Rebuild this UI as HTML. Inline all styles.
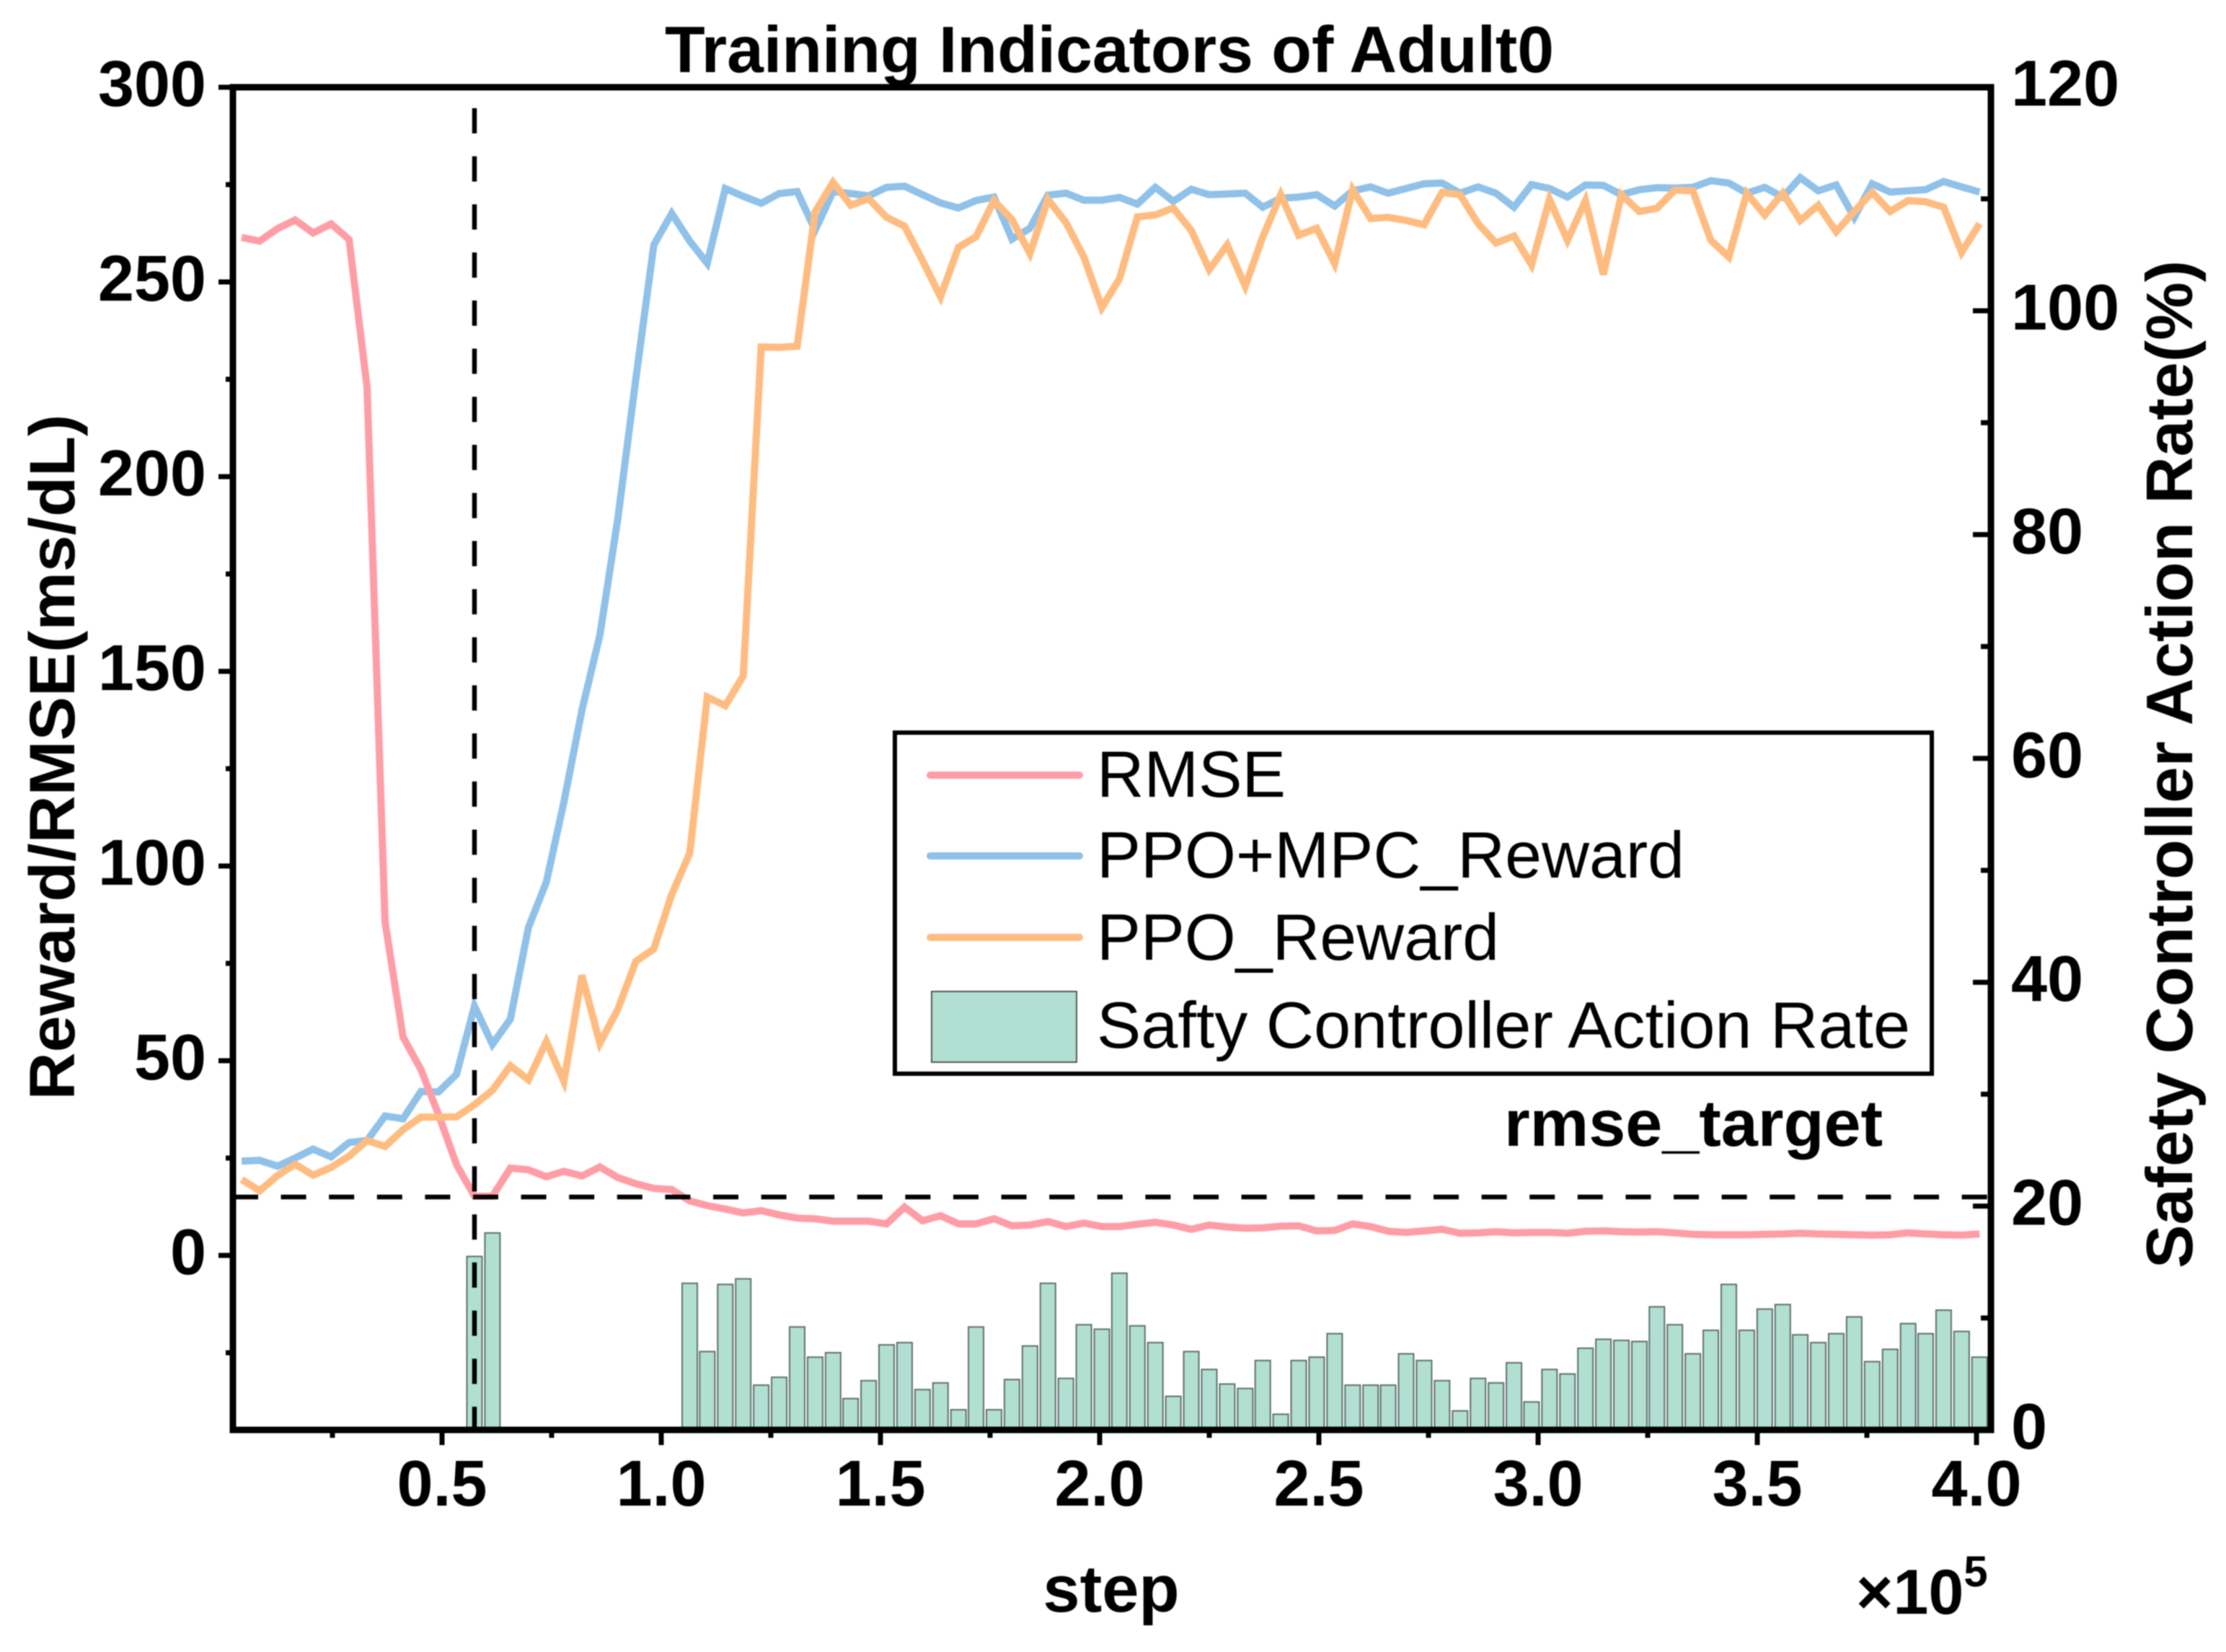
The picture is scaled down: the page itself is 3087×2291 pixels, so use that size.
<!DOCTYPE html>
<html lang="en">
<head>
<meta charset="utf-8">
<title>Training Indicators of Adult0</title>
<style>
  html, body { margin: 0; padding: 0; background: #fff; }
  svg { display: block; filter: blur(0.7px); }
  text { font-family: "Liberation Sans", Arial, sans-serif; fill: #000; }
  .b { font-weight: 700; }
</style>
</head>
<body>
<svg id="chart" xmlns="http://www.w3.org/2000/svg" width="3087" height="2291" viewBox="0 0 3087 2291">
  <rect x="0" y="0" width="3087" height="2291" fill="#fff"/>
  <g id="bars"></g>
  <g id="lines"></g>
  <g id="refs"></g>
  <g id="axes"></g>
  <text class="b" x="922" y="100" font-size="91" textLength="1233" lengthAdjust="spacingAndGlyphs">Training Indicators of Adult0</text>
  <text class="b" x="1541" y="2235" font-size="92" text-anchor="middle">step</text>
  <text class="b" x="2574" y="2238" font-size="88">×10<tspan font-size="60" dy="-38">5</tspan></text>
  <text class="b" transform="translate(103 1050) rotate(-90)" font-size="89" text-anchor="middle" textLength="951" lengthAdjust="spacingAndGlyphs">Reward/RMSE(ms/dL)</text>
  <text class="b" transform="translate(3040 1060) rotate(-90)" font-size="91" text-anchor="middle" textLength="1398" lengthAdjust="spacingAndGlyphs">Safety Controller Action Rate(%)</text>
  <text class="b" x="2086" y="1589" font-size="91" textLength="525" lengthAdjust="spacingAndGlyphs">rmse_target</text>
  <g>
    <rect x="1241" y="1016" width="1438" height="473" fill="#fff" stroke="#000" stroke-width="6"/>
    <line x1="1290" x2="1497" y1="1075" y2="1075" stroke="#ff9da6" stroke-width="10" stroke-linecap="round"/>
    <text x="1521" y="1105" font-size="91" textLength="262" lengthAdjust="spacingAndGlyphs">RMSE</text>
    <line x1="1290" x2="1497" y1="1187" y2="1187" stroke="#8fc1e9" stroke-width="10" stroke-linecap="round"/>
    <text x="1521" y="1217" font-size="91" textLength="815" lengthAdjust="spacingAndGlyphs">PPO+MPC_Reward</text>
    <line x1="1290" x2="1497" y1="1300" y2="1300" stroke="#ffbc80" stroke-width="10" stroke-linecap="round"/>
    <text x="1521" y="1331" font-size="91" textLength="558" lengthAdjust="spacingAndGlyphs">PPO_Reward</text>
    <rect x="1292" y="1375" width="201" height="98" fill="#b1e0d2" stroke="#555" stroke-width="2"/>
    <text x="1521" y="1453" font-size="91" textLength="1128" lengthAdjust="spacingAndGlyphs">Safty Controller Action Rate</text>
  </g>
</svg>
<script>
// Step values, in units of 10^5
const steps = [0.043,0.084,0.125,0.165,0.206,0.247,0.288,0.329,0.370,0.411,
  0.452,0.492,0.533,0.574,0.615,0.656,0.697,0.738,0.778,0.819,
  0.860,0.901,0.942,0.983,1.024,1.065,1.105,1.146,1.187,1.228,
  1.269,1.310,1.351,1.392,1.432,1.473,1.514,1.555,1.596,1.637,
  1.678,1.718,1.759,1.800,1.841,1.882,1.923,1.964,2.005,2.045,
  2.086,2.127,2.168,2.209,2.250,2.291,2.332,2.372,2.413,2.454,
  2.495,2.536,2.577,2.618,2.658,2.699,2.740,2.781,2.822,2.863,
  2.904,2.945,2.985,3.026,3.067,3.108,3.149,3.190,3.231,3.271,
  3.312,3.353,3.394,3.435,3.476,3.517,3.558,3.598,3.639,3.680,
  3.721,3.762,3.803,3.844,3.884,3.925,3.966,4.007];
const rmse = [261.4,260.5,263.7,265.9,262.6,264.9,260.9,223,85.6,56.1,
  47.7,36.2,23.3,15.2,15.2,22.4,22,20.2,21.6,20.4,
  22.7,20,18.4,17.2,16.9,14,12.8,11.9,10.9,11.5,
  10.4,9.6,9.4,8.8,8.8,8.8,8.1,12.4,8.9,10.2,
  8.1,8.1,9.4,7.6,7.8,8.7,7.4,8.3,7.4,7.4,
  8,8.5,7.8,6.7,7.8,7.3,7,7.1,7.5,7.6,
  6.3,6.4,8.1,7.4,6.2,5.9,6.3,6.7,5.7,5.8,
  6.1,5.8,5.9,5.9,5.7,6.2,6.3,6.1,6,6.1,
  5.8,5.4,5.3,5.3,5.3,5.4,5.5,5.7,5.5,5.4,
  5.3,5.2,5.3,5.8,5.5,5.3,5.2,5.5];
const ppoMpcReward = [24.2,24.4,22.9,25,27.3,25.3,29,29.5,35.8,35.1,
  42.1,42,46.5,64,54.2,60.7,84.2,95.9,116.4,140,
  159.3,189.2,225,259.5,267.6,260.5,254.8,274,272,270.2,
  272.7,273.2,263.3,273.2,272.7,272.1,274.3,274.6,272.4,270.3,
  269,270.9,271.8,261,263.8,272.3,272.8,271,271,271.7,
  270,274.3,270.7,273.8,272.4,272.6,272.8,269.2,271.5,271.8,
  272.4,269.5,273.4,274.4,272.8,274,275.2,275.4,272.8,274.4,
  272.8,269.2,275,274,271.8,274.9,274.8,272.4,273.7,274.2,
  274.1,274.3,276,275.4,272.8,274.3,271.8,276.8,273.4,274.9,
  266.6,275.2,273.1,273.4,273.7,275.8,274.4,273.1];
const ppoReward = [19.5,16.6,20.5,23.4,20.6,22.6,25.5,29.5,28,32.3,
  35.5,35.5,35.6,38.7,42.4,48.7,45.1,54.9,44.7,71.9,
  54.5,63.2,75.5,78.7,92.7,103.3,143.4,141.2,148.8,233.3,
  233.2,233.5,268,275.6,269.7,271.4,266.6,264.3,255.5,246.2,
  258.9,261.6,270.9,266,257.3,271.2,265.3,256.4,243.4,250.8,
  266.7,267.2,269,263.2,253.2,259.5,248.9,261.6,272.4,262,
  263.8,254.7,273.7,266.3,266.6,265.8,264.7,273,272.4,265,
  260,261.8,254.4,271.2,260.7,270.9,251.9,272.4,268.1,268.9,
  273.6,273.4,260.7,256.4,272.8,267.2,272.8,265.8,269.7,262.9,
  268.1,273,268.1,270.9,270.6,269.2,257.6,265];
const actionRate = [0,0,0,0,0,0,0,0,0,0,
  0,0,0,15.5,17.6,0,0,0,0,0,
  0,0,0,0,0,13.1,7,13,13.5,4,
  4.7,9.2,6.5,6.9,2.8,4.4,7.6,7.8,3.6,4.2,
  1.8,9.2,1.8,4.5,7.5,13.1,4.6,9.4,9,14,
  9.3,7.8,3,7,5.4,4.1,3.7,6.2,1.4,6.2,
  6.5,8.6,4,4,4,6.8,6.2,4.4,1.7,4.6,
  4.2,6,2.5,5.4,5,7.3,8.1,8,7.9,11,
  9.4,6.8,8.9,13,8.9,10.8,11.2,8.5,7.8,8.6,
  10.1,6.1,7.2,9.5,8.6,10.7,8.8,6.5];
const rmseTarget = 15;
const convergenceStep = 0.574;
const xTicks = ["0.5","1.0","1.5","2.0","2.5","3.0","3.5","4.0"];
const xMinorTicks = [0.25,0.75,1.25,1.75,2.25,2.75,3.25,3.75];
const leftTicks = ["0","50","100","150","200","250","300"];
const leftMinorTicks = [-25,25,75,125,175,225,275];
const rightTicks = ["0","20","40","60","80","100","120"];
const rightMinorTicks = [10,30,50,70,90,110];

const xOf = v => 613 + 608 * (v - 0.5);
const yLeft = v => 1741 - 5.4 * v;
const yRight = v => 1983 - 15.52 * v;
const NS = 'http://www.w3.org/2000/svg';

function make(tag, props, parent) {
  const el = document.createElementNS(NS, tag);
  for (const k in props) el.setAttribute(k, props[k]);
  parent.appendChild(el);
  return el;
}

const barLayer = document.getElementById('bars');
actionRate.forEach((v, i) => {
  if (v <= 0) return;
  const top = yRight(v);
  const bar = make('rect', {x: xOf(steps[i]) - 10.5, y: top, width: 21, height: 1983 - top, fill: '#b1e0d2', stroke: '#5f6f69', 'stroke-width': 2}, barLayer);
  
  
});

const lineLayer = document.getElementById('lines');
const toPoints = vals => vals.map((v, i) => xOf(steps[i]).toFixed(1) + ',' + yLeft(v).toFixed(1)).join(' ');
const lineProps = {fill: 'none', 'stroke-width': 10, 'stroke-linejoin': 'miter', 'stroke-miterlimit': 4};

const ppoMpcLine = make('polyline', {...lineProps, points: toPoints(ppoMpcReward), stroke: '#8fc1e9'}, lineLayer);



const rmseLine = make('polyline', {...lineProps, points: toPoints(rmse), stroke: '#ff9da6'}, lineLayer);



const ppoLine = make('polyline', {...lineProps, points: toPoints(ppoReward), stroke: '#ffbc80'}, lineLayer);



const refLayer = document.getElementById('refs');
const targetLine = make('line', {x1: 323, x2: 2760, y1: yLeft(rmseTarget), y2: yLeft(rmseTarget), stroke: '#000', 'stroke-width': 6.5, 'stroke-dasharray': '35 31.6'}, refLayer);



const stepLine = make('line', {x1: xOf(convergenceStep), x2: xOf(convergenceStep), y1: 150, y2: 1983, stroke: '#000', 'stroke-width': 6.5, 'stroke-dasharray': '35 31.7'}, refLayer);



const axisLayer = document.getElementById('axes');
const tickProps = {stroke: '#000', 'stroke-width': 7};
const labelFont = {'font-size': 90, 'font-weight': 700};

const spineProps = {stroke: '#000', 'stroke-width': 9, 'stroke-linecap': 'square'};
const spineLeft = make('line', {...spineProps, x1: 323, x2: 323, y1: 121, y2: 1983}, axisLayer);


const spineRight = make('line', {...spineProps, x1: 2761, x2: 2761, y1: 121, y2: 1983}, axisLayer);


const spineTop = make('line', {...spineProps, x1: 323, x2: 2761, y1: 121, y2: 121}, axisLayer);


const spineBottom = make('line', {...spineProps, x1: 323, x2: 2761, y1: 1983, y2: 1983}, axisLayer);



xTicks.forEach(label => {
  const x = xOf(parseFloat(label));
  const tick = make('line', {...tickProps, x1: x, x2: x, y1: 1983, y2: 2004}, axisLayer);
  
  
  const text = make('text', {...labelFont, x: x, y: 2088, 'text-anchor': 'middle'}, axisLayer);
  
  
  text.textContent = label;
});
xMinorTicks.forEach(v => {
  const x = xOf(v);
  const tick = make('line', {...tickProps, x1: x, x2: x, y1: 1983, y2: 1994}, axisLayer);
  
  
});

leftTicks.forEach(label => {
  const y = yLeft(parseFloat(label));
  const tick = make('line', {...tickProps, x1: 303, x2: 323, y1: y, y2: y}, axisLayer);
  
  
  const text = make('text', {...labelFont, x: 286, y: y + 26, 'text-anchor': 'end'}, axisLayer);
  
  
  text.textContent = label;
});
leftMinorTicks.forEach(v => {
  const y = yLeft(v);
  const tick = make('line', {...tickProps, x1: 313, x2: 323, y1: y, y2: y}, axisLayer);
  
  
});

rightTicks.forEach(label => {
  const y = yRight(parseFloat(label));
  const tick = make('line', {...tickProps, x1: 2736, x2: 2761, y1: y, y2: y}, axisLayer);
  
  
  const text = make('text', {...labelFont, x: 2789, y: y + 26}, axisLayer);
  
  
  text.textContent = label;
});
rightMinorTicks.forEach(v => {
  const y = yRight(v);
  const tick = make('line', {...tickProps, x1: 2747, x2: 2761, y1: y, y2: y}, axisLayer);
  
  
});
</script>
</body>
</html>
